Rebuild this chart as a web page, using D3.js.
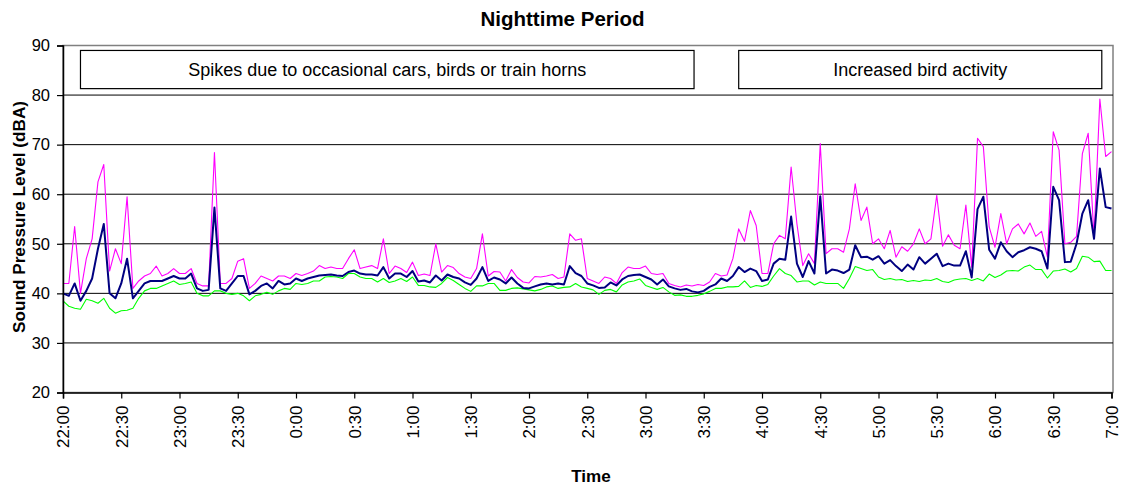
<!DOCTYPE html>
<html>
<head>
<meta charset="utf-8">
<script src="https://cdn.jsdelivr.net/npm/d3@7"></script>
<style>
  body { margin: 0; background: #fff; }
  svg { font-family: "Liberation Sans", Arial, sans-serif; }
</style>
</head>
<body>
<div id="chart"></div>
<script>
// Readings every 3 minutes from 22:00 to 7:00
const lmax = [
  42, 42, 53.5, 40, 47, 51, 62.5, 66, 44.5, 49, 46,
  59.5, 41, 42.5, 43.5, 44, 45.5, 43.5, 44, 45, 44,
  44, 45, 42, 41.5, 41.5, 68.4, 42, 42, 43, 46.5,
  47, 41, 42, 43.5, 43, 42.5, 43.5, 43.5, 43, 44,
  43.6, 44, 44.5, 45.6, 45, 45.3, 45, 45, 47, 48.8,
  45, 45.3, 45.6, 45, 51, 44, 45.5, 45, 44.2, 46.3,
  43.6, 43.9, 43.6, 50, 44.3, 45.6, 45.2, 44, 43.3, 43,
  45, 52, 43.5, 44.4, 44.3, 42.5, 44.8, 43.2, 42.3, 42.1,
  43.4, 43.3, 43.5, 43.8, 43, 43.3, 52, 50.7, 51, 43,
  42.5, 42, 43.3, 43, 42, 44.2, 45.3, 45, 45, 45.5,
  44, 43.8, 44, 42, 41.6, 41.3, 41.7, 41.5, 41.8, 41.6,
  42.3, 44, 43.5, 43.7, 47, 53, 50.5, 56.7, 53.7, 44,
  44, 50, 51.7, 51, 65.5, 54, 45.6, 48, 46, 70.2,
  48, 49, 49, 48.3, 53, 62.1, 54.7, 57.4, 50, 51,
  49, 52.7, 47.3, 49.4, 48.5, 50, 53, 50, 51, 59.8,
  49.5, 51.8, 49.7, 49, 57.8, 45.3, 71.3, 69.6, 53.4, 49.3,
  56.1, 50, 53, 54, 52, 54.2, 51.5, 52.5, 47.3, 72.6,
  68.9, 50, 50.3, 51.5, 68.2, 72.3, 51.4, 79.2, 67.6, 68.6
];

const leq = [
  40, 39.5, 42, 38.5, 40.5, 43, 49, 54, 40, 39, 42,
  47, 39, 40.5, 42, 42.5, 42.5, 42.5, 43, 43.5, 43,
  43, 44, 41, 40.5, 40.7, 57.3, 41, 40.5, 42, 43.5,
  43.5, 39.8, 40.5, 41.5, 42, 41, 42.5, 41.8, 42, 43,
  42.5, 43, 43.3, 43.6, 43.7, 43.8, 43.6, 43.5, 44.3, 44.6,
  44, 43.8, 43.8, 43.6, 45.3, 43, 44, 44, 43.3, 44.5,
  42.4, 42.6, 42.2, 43.6, 42.6, 43.8, 43.3, 43, 42.2, 41.7,
  43, 45.3, 42.5, 43.2, 42.8, 42, 43.2, 42, 41.1, 41,
  41.4, 41.8, 42, 41.8, 42, 41.8, 45.5, 44.1, 43.5, 42,
  41.6, 41.1, 41.2, 42.2, 41.6, 42.8, 43.5, 43.7, 43.8, 43.3,
  42.8, 41.8, 42.8, 41.4, 41, 40.7, 40.9, 40.4, 40.2, 40.5,
  41.3, 41.8, 43, 42.5, 43.5, 45.3, 44.3, 45, 44.5, 42.5,
  42.8, 46, 47, 46.8, 55.5, 46, 43.3, 46.5, 44, 59.6,
  44, 44.8, 44.6, 44.1, 44.8, 49.7, 47.3, 47.4, 46.8, 47.5,
  46, 46.7, 45.5, 44.5, 45.8, 44.8, 47.3, 46, 47, 48,
  45.5, 46, 45.6, 45.6, 48.5, 43.2, 57, 59.5, 48.8, 47,
  50.3, 48.5, 47.3, 48.3, 48.7, 49.3, 49, 48.5, 45, 61.5,
  58.8, 46.3, 46.4, 50, 56.1, 58.8, 51, 65.2, 57.4, 57.1
];

const l90 = [
  38.5, 37.4, 37, 36.8, 38.8, 38.5, 38, 39, 37, 36, 36.5,
  36.6, 37, 39, 40.5, 41, 41, 41.5, 42, 42.5, 41.8,
  42, 42.3, 40, 39.5, 39.5, 40.5, 40.5, 40, 39.8, 40,
  39.5, 38.5, 39.5, 39.8, 40.2, 39.8, 40.5, 41, 40.8, 42,
  41.8, 42, 42.5, 42.5, 43.3, 43.4, 43.3, 43, 44, 44,
  43.3, 43, 43, 42.3, 43, 42.2, 42.5, 43, 42.4, 43.3,
  41.6, 41.6, 41.3, 41.2, 42, 43.2, 42.6, 41.8, 41, 40.4,
  41.5, 41.5, 42, 42, 40.6, 40.6, 41, 41.1, 40.9, 40.7,
  40.5, 40.8, 41.3, 41.5, 41, 41.2, 41.3, 42, 41.3, 41,
  40.7, 39.8, 40.6, 40.8, 40.3, 41.7, 42.3, 42.5, 42.9, 41.6,
  41.2, 40.8, 41.2, 40.3, 39.6, 39.7, 39.4, 39.4, 39.6, 39.9,
  40.4, 41, 41, 41.3, 41.3, 41.4, 42.5, 41.2, 41.6, 41.4,
  41.8, 43.5, 45, 44, 43.6, 42.3, 42.5, 42.5, 41.7, 42.3,
  42, 42, 42, 41, 43, 45.4, 45, 44.6, 44.8, 43.3,
  42.8, 43, 42.7, 42.8, 42.4, 42.6, 42.4, 42.7, 42.6, 43,
  42.4, 42.2, 42.7, 42.9, 43, 42.6, 43, 42.5, 43.9, 43.2,
  43.7, 44.5, 44.6, 44.5, 45.3, 45.7, 44.8, 44.8, 43.1, 44.5,
  44.6, 44.9, 44.3, 45, 47.5, 47.3, 46.4, 46.5, 44.6, 44.6
];

const tickLabels = ["22:00", "22:30", "23:00", "23:30", "0:00", "0:30", "1:00", "1:30", "2:00",
  "2:30", "3:00", "3:30", "4:00", "4:30", "5:00", "5:30", "6:00", "6:30", "7:00"];
const yTicks = [20, 30, 40, 50, 60, 70, 80, 90];
const notes = ["Spikes due to occasional cars, birds or train horns", "Increased bird activity"];

const startTime = new Date(2000, 0, 1, 22, 0);
const stepMinutes = 3;

// turn "h:mm" into a date, hours before noon belong to the next day
function parseLabel(s) {
    const [h, m] = s.split(':').map(Number);
    return new Date(2000, 0, h >= 12 ? 1 : 2, h, m);
}

const times = lmax.map((_, i) => d3.timeMinute.offset(startTime, i * stepMinutes));
const tickDates = tickLabels.map(parseLabel);

const width = 1125, height = 489;
const margin = { top: 45.5, right: 12, bottom: 97, left: 63 };

const svg = d3.select('#chart')
    .append('svg')
    .attr('width', width)
    .attr('height', height);

const x = d3.scaleTime()
    .domain([tickDates[0], tickDates[tickDates.length - 1]])
    .range([margin.left, 1111.5]);

const y = d3.scaleLinear()
    .domain([20, 90])
    .range([height - margin.bottom + 0.5, margin.top]);

// plot area border
svg.append('rect')
    .attr('x', margin.left)
    .attr('y', y(90))
    .attr('width', width - margin.right - margin.left)
    .attr('height', y(20) - y(90))
    .attr('fill', 'none')
    .attr('stroke', '#808080')
    .attr('stroke-width', 1.5);

// gridlines
svg.append('g')
    .selectAll('line')
    .data(yTicks.filter(d => d > 20 && d < 90))
    .enter()
    .append('line')
    .attr('x1', margin.left)
    .attr('x2', width - margin.right)
    .attr('y1', d => y(d))
    .attr('y2', d => y(d))
    .attr('stroke', '#000')
    .attr('stroke-width', 1);

// annotation boxes
const boxes = [
    { text: notes[0], from: d3.timeMinute.offset(tickDates[0], 9), to: d3.timeMinute.offset(tickDates[0], 325) },
    { text: notes[1], from: d3.timeMinute.offset(tickDates[0], 348), to: d3.timeMinute.offset(tickDates[0], 535) }
];
const boxG = svg.append('g');
boxG.selectAll('rect')
    .data(boxes)
    .enter()
    .append('rect')
    .attr('x', d => x(d.from))
    .attr('y', y(89))
    .attr('width', d => x(d.to) - x(d.from))
    .attr('height', y(81.3) - y(89))
    .attr('fill', '#fff')
    .attr('stroke', '#000')
    .attr('stroke-width', 1.2);
boxG.selectAll('text')
    .data(boxes)
    .enter()
    .append('text')
    .attr('x', d => (x(d.from) + x(d.to)) / 2)
    .attr('y', (y(89) + y(81.3)) / 2)
    .attr('dy', '0.35em')
    .attr('text-anchor', 'middle')
    .style('font-size', '18px')
    .text(d => d.text);

// lines
const series = [
    { values: l90, colour: '#00FF00', w: 1.1 },
    { values: lmax, colour: '#FF00FF', w: 1.1 },
    { values: leq, colour: '#000080', w: 2 }
];
const line = d3.line()
    .x((d, i) => x(times[i]))
    .y(d => y(d));

svg.append('g')
    .selectAll('path')
    .data(series)
    .enter()
    .append('path')
    .attr('d', d => line(d.values))
    .attr('fill', 'none')
    .attr('stroke', d => d.colour)
    .attr('stroke-width', d => d.w)
    .attr('stroke-linejoin', 'round');

// y axis
const yAxis = svg.append('g')
    .attr('transform', `translate(${margin.left},0)`)
    .call(d3.axisLeft(y).tickValues(yTicks).tickSize(6).tickPadding(7));
yAxis.select('.domain').attr('stroke', '#000').attr('stroke-width', 1.5);
yAxis.selectAll('.tick line').attr('stroke', '#000').attr('stroke-width', 1.2);
yAxis.selectAll('text').style('font-size', '16.5px').attr('fill', '#000');

// x axis
const xAxis = svg.append('g')
    .attr('transform', `translate(0,${y(20)})`)
    .call(d3.axisBottom(x).tickValues(tickDates).tickSize(6).tickFormat((d, i) => tickLabels[i]));
xAxis.select('.domain').attr('stroke', '#000').attr('stroke-width', 1.5);
xAxis.selectAll('.tick line').attr('stroke', '#000').attr('stroke-width', 1.2);
xAxis.selectAll('text')
    .attr('y', 0)
    .attr('x', -13)
    .attr('dy', '0.35em')
    .attr('transform', 'rotate(-90)')
    .style('text-anchor', 'end')
    .style('font-size', '17px')
    .attr('fill', '#000');

// titles
svg.append('text')
    .attr('x', 562.5)
    .attr('y', 26)
    .attr('text-anchor', 'middle')
    .style('font-size', '20.5px')
    .style('font-weight', 'bold')
    .text('Nighttime Period');

svg.append('text')
    .attr('transform', `translate(25,217) rotate(-90)`)
    .attr('text-anchor', 'middle')
    .style('font-size', '17.2px')
    .style('font-weight', 'bold')
    .text('Sound Pressure Level (dBA)');

svg.append('text')
    .attr('x', 591)
    .attr('y', 482)
    .attr('text-anchor', 'middle')
    .style('font-size', '17.1px')
    .style('font-weight', 'bold')
    .text('Time');
</script>
</body>
</html>
